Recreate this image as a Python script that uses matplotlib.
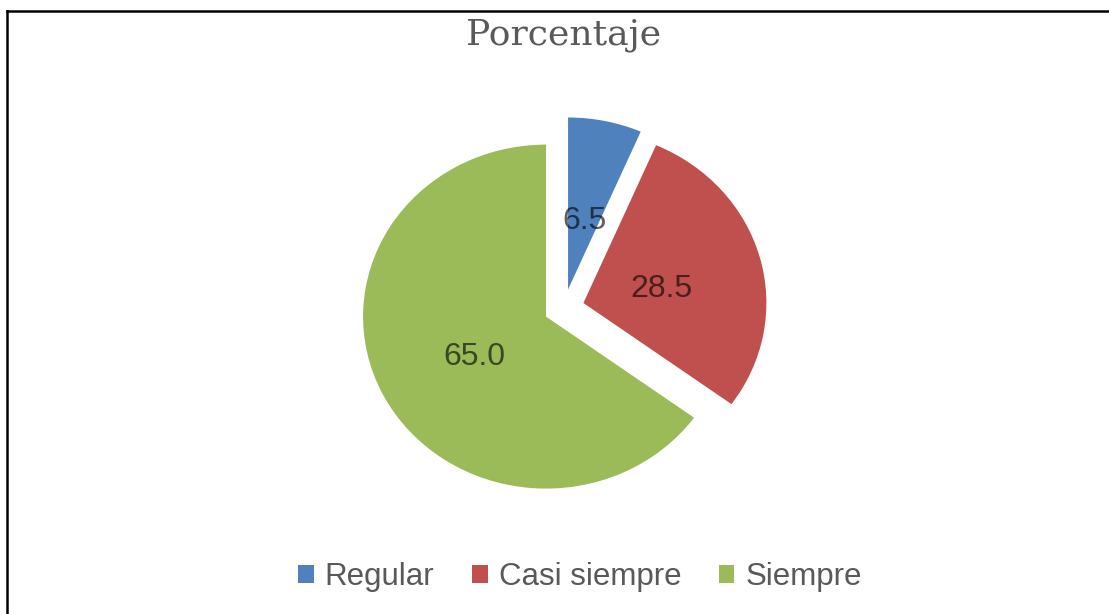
'''Pie chart "Porcentaje" with all wedges pulled out, Excel-like look.'''

import matplotlib
matplotlib.use('Agg')
import matplotlib.pyplot as plt
from matplotlib.lines import Line2D

# data
categorias = ['Regular', 'Casi siempre', 'Siempre']
porcentajes = [6.5, 28.5, 65.0]
colores = ['#4F81BD', '#C0504D', '#9BBB59']

plt.rcParams['font.family'] = ['Liberation Sans', 'DejaVu Sans']

fig = plt.figure(figsize=(11.09, 6.14), dpi=100)
fig.patch.set_facecolor('white')

# axes placed so the pie centre sits where the original one is
ax = fig.add_axes([0.3023, 0.1482, 0.4125, 0.7003])
wedges, textos, autotextos = ax.pie(
    porcentajes, colors=colores, startangle=90, counterclock=False,
    explode=[0.11] * len(porcentajes), autopct='%.1f', pctdistance=0.44,
    wedgeprops=dict(linewidth=0), textprops=dict(fontsize=23))
for t in autotextos:
    t.set_color('black')
    t.set_alpha(0.62)
    x, y = t.get_position()
    t.set_position((x, y - 0.035))

# the original is slightly stretched horizontally
ax.set_aspect('auto')
ax.set_xlim(-1.25, 1.25)
ax.set_ylim(-1.25, 1.25)

# title
fig.text(0.508, 1 - 45 / 614, 'Porcentaje', family='DejaVu Serif', fontsize=26,
         color='#595959', ha='center', va='baseline')

# legend at the bottom
fig.legend(wedges, categorias, loc='center', ncol=3,
           bbox_to_anchor=(0.523, 1 - 577 / 614), frameon=False,
           fontsize=22.5, labelcolor='#595959', handlelength=0.5,
           handleheight=0.5, handletextpad=0.35, columnspacing=1.2)

# black frame lines at top and left
fig.add_artist(Line2D([0.0063, 1.0], [0.982, 0.982], color='black', linewidth=1.8,
                      transform=fig.transFigure))
fig.add_artist(Line2D([0.0063, 0.0063], [0.0, 0.982], color='black', linewidth=1.8,
                      transform=fig.transFigure))

fig.savefig('out.png', dpi=100, facecolor='white')
